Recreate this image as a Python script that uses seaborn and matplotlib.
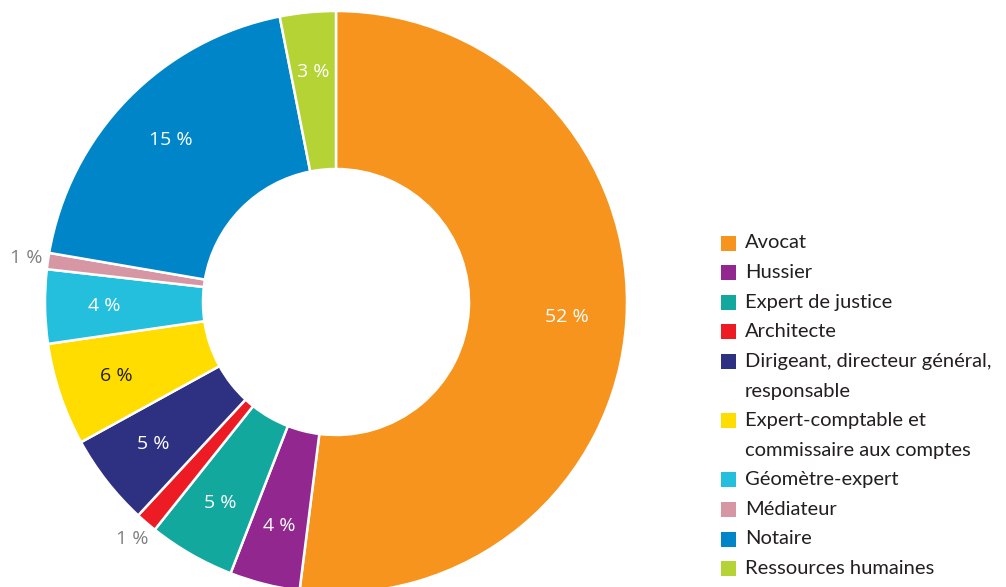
import matplotlib
matplotlib.use("Agg")
import matplotlib.pyplot as plt
import seaborn as sns
import numpy as np
from matplotlib.patches import Rectangle

# Données (parts des secteurs, en %)
categories = ["Avocat", "Hussier", "Expert de justice", "Architecte",
              "Dirigeant, directeur général,\nresponsable",
              "Expert-comptable et\ncommissaire aux comptes",
              "Géomètre-expert", "Médiateur", "Notaire", "Ressources humaines"]
shares = [52.0, 3.9, 4.8, 1.2, 5.1, 5.7, 4.1, 0.9, 19.2, 3.1]
pct_labels = ["52 %", "4 %", "5 %", "1 %", "5 %", "6 %", "4 %", "1 %", "15 %", "3 %"]
colors = ["#F7941D", "#92278F", "#13A89E", "#ED1C24", "#2E3182",
          "#FFDD00", "#24BFDD", "#D696A3", "#0085C8", "#B5D334"]

sns.set_theme(style="white")
plt.rcParams['font.family'] = ['Lato', 'DejaVu Sans']

fig = plt.figure(figsize=(10.06, 5.87), dpi=100)
W, H = 1006, 587
# donut : centre (336, 302) px, rayon 291 px
ax = fig.add_axes([(336 - 291) / W, (H - 302 - 291) / H, 582 / W, 582 / H])

inner = 133 / 291
wedges, _ = ax.pie(shares, radius=1, startangle=90, counterclock=False,
                   colors=colors,
                   wedgeprops=dict(width=1 - inner, edgecolor="white", linewidth=1.8))
ax.set_xlim(-1, 1)
ax.set_ylim(-1, 1)
ax.set_aspect("equal")
ax.axis("off")

# étiquettes de pourcentage
for w, lab, val in zip(wedges, pct_labels, shares):
    mid = np.deg2rad((w.theta1 + w.theta2) / 2)
    if val < 2:
        r, col = 1.075, "#808080"
    else:
        r = 0.795
        col = "#231F20" if w.get_facecolor()[:3] == matplotlib.colors.to_rgb("#FFDD00") else "white"
    ax.text(r * np.cos(mid), r * np.sin(mid), lab, ha="center", va="center",
            fontsize=14, color=col, family=["Open Sans", "DejaVu Sans"])

# légende
rows = [0, 1, 2, 3, 4, 6, 8, 9, 10, 11]
y0, step = 243, 29.6
for cat, colr, row in zip(categories, colors, rows):
    yc = y0 + row * step
    fig.patches.append(Rectangle((721 / W, (H - yc - 7.5) / H), 15 / W, 15 / H,
                                 transform=fig.transFigure, facecolor=colr,
                                 edgecolor="none"))
    fig.text(745 / W, (H - yc) / H, cat.split("\n")[0], ha="left", va="center",
             fontsize=14.5, color="#231F20")
    if "\n" in cat:
        fig.text(745 / W, (H - yc - step) / H, cat.split("\n")[1], ha="left",
                 va="center", fontsize=14.5, color="#231F20")

fig.savefig("out.png", dpi=100)
